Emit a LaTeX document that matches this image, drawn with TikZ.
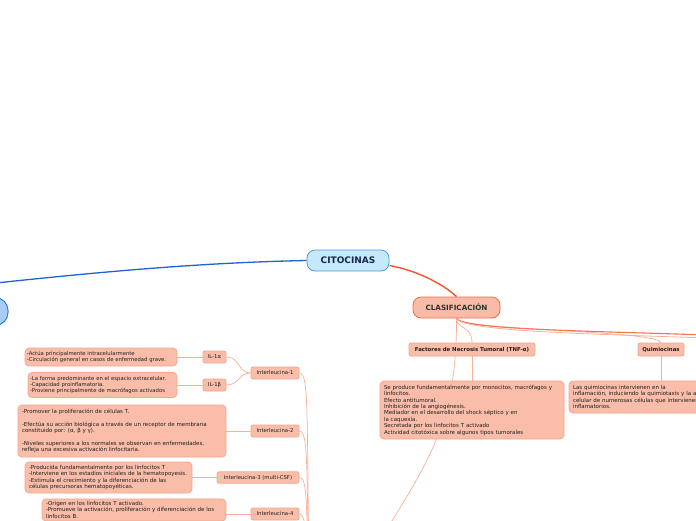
\documentclass[tikz,border=0pt]{standalone}
\usepackage{fontspec}
\setmainfont{DejaVu Sans}
\usetikzlibrary{backgrounds}
\definecolor{cfill}{HTML}{C5E9FB}
\definecolor{cdraw}{HTML}{4D9BD6}
\definecolor{ctext}{HTML}{17284A}
\definecolor{blueline}{HTML}{1E63CF}
\definecolor{bfill}{HTML}{A9CCF7}
\definecolor{bdraw}{HTML}{2F7BE0}
\definecolor{oline}{HTML}{F2552C}
\definecolor{ofill}{HTML}{F9BBA7}
\definecolor{odraw}{HTML}{EE6B45}
\definecolor{otext}{HTML}{1E3A2C}
\definecolor{sfill}{HTML}{F9BDA9}
\definecolor{sdraw}{HTML}{F6A88D}
\definecolor{sline}{HTML}{F8AF97}
\definecolor{rline}{HTML}{F47350}
\definecolor{txt}{HTML}{1F1F1F}
\tikzset{
 mainbox/.style={draw=cdraw, fill=cfill, rounded corners=8pt, line width=0.8pt, inner sep=0pt,
   font=\fontsize{9}{10}\selectfont\bfseries, text=ctext},
 bluebox/.style={draw=bdraw, fill=bfill, rounded corners=13pt, line width=1pt, inner sep=0pt},
 clbox/.style={draw=odraw, fill=ofill, rounded corners=8pt, line width=0.8pt, inner sep=0pt,
   font=\fontsize{7.2}{8}\selectfont\bfseries, text=otext},
 lbl/.style={draw=sdraw, fill=sfill, rounded corners=2pt, line width=0.8pt, inner sep=0pt,
   font=\fontsize{5.3}{6}\selectfont, text=txt},
 blbl/.style={lbl, font=\fontsize{5.4}{6}\selectfont\bfseries},
 tbox/.style={draw=sdraw, fill=sfill, rounded corners=4pt, line width=0.8pt, inner xsep=4pt,
   inner ysep=2.5pt, align=left, font=\fontsize{5.5}{6.4}\selectfont, text=txt},
 tboxs/.style={tbox, inner xsep=2pt, font=\fontsize{5.3}{6.4}\selectfont},
 thin/.style={draw=sline, line width=0.7pt},
}
\begin{document}
\begin{tikzpicture}[x=1pt,y=-1pt]
\useasboundingbox (0,0) rectangle (696,520);
\clip (0,0) rectangle (696,520);

% main nodes
\node[mainbox, minimum width=82pt, minimum height=21pt] (cito) at (348,260.5) {CITOCINAS};
\node[bluebox, minimum width=80pt, minimum height=28pt] (bluen) at (-32,311.5) {};
\node[clbox, minimum width=87pt, minimum height=21pt] (clas) at (456.5,307.5) {CLASIFICACIÓN};

% second level
\node[blbl, minimum width=126pt, minimum height=13pt] (fac) at (472,349.5) {Factores de Necrosis Tumoral (TNF-α)};
\node[blbl, minimum width=46pt, minimum height=13pt] (quim) at (661,349.5) {Quimiocinas};

\node[tbox, text width=176pt, minimum height=58pt] (tnf) at (472,410) {Se produce fundamentalmente por monocitos, macrófagos y\\
linfocitos.\\
Efecto antitumoral.\\
Inhibición de la angiogénesis.\\
Mediador en el desarrollo del shock séptico y en\\
la caquexia.\\
Secretada por los linfocitos T activado\\
Actividad citotóxica sobre algunos tipos tumorales};

\node[tbox, text width=176pt, minimum height=32pt] (quimt) at (661,397) {Las quimiocinas intervienen en la\\
inflamación, induciendo la quimiotaxis y la activación\\
celular de numerosas células que intervienen en\\
inflamatorios.};

% interleucinas
\node[lbl, minimum width=48pt, minimum height=12pt] (il1) at (275,373) {Interleucina-1};
\node[lbl, minimum width=23pt, minimum height=12pt] (il1a) at (214.5,357) {IL-1α};
\node[lbl, minimum width=23pt, minimum height=12pt] (il1b) at (214.5,385) {IL-1β};
\node[lbl, minimum width=48pt, minimum height=12pt] (il2) at (275,431) {Interleucina-2};
\node[lbl, minimum width=82pt, minimum height=11.5pt] (il3) at (258,477.5) {Interleucina-3 (multi-CSF)};
\node[lbl, minimum width=48pt, minimum height=12pt] (il4) at (275,514) {Interleucina-4};

\node[tboxs, text width=148pt, minimum height=18pt] (t1a) at (101,357) {-Actúa principalmente intracelularmente\\
-Circulación general en casos de enfermedad grave.};
\node[tboxs, text width=145pt, minimum height=25pt] (t1b) at (102.5,385) {-La forma predominante en el espacio extracelular.\\
-Capacidad proinflamatoria.\\
-Proviene principalmente de macrófagos activados};
\node[tbox, text width=200pt, minimum height=52pt] (t2) at (122,431) {-Promover la proliferación de células T.\\[6.4pt]
-Efectúa su acción biológica a través de un receptor de membrana\\
constituido por: (α, β y γ).\\[6.4pt]
-Niveles superiores a los normales se observan en enfermedades,\\
refleja una excesiva activación linfocitaria.};
\node[tbox, text width=159pt, minimum height=31pt] (t3) at (108.5,477.5) {-Producida fundamentalmente por los linfocitos T\\
-Interviene en los estadios iniciales de la hematopoyesis.\\
-Estimula el crecimiento y la diferenciación de las\\
células precursoras hematopoyéticas.};
\node[tbox, text width=176pt, anchor=north] (t4) at (134,498.5) {-Origen en los linfocitos T activado.\\
-Promueve la activación, proliferación y diferenciación de los\\
linfocitos B.};

% off-picture ends
\coordinate (leftend) at (-60,289);
\coordinate (ilhub) at (310,620);
\coordinate (sub) at (380,540);
\coordinate (rA) at (720,335.5);
\coordinate (rB) at (720,338.5);

\begin{scope}[on background layer]
\draw[blueline, line width=1.3pt] (cito.west) .. controls (180,263) and (60,276) .. (leftend);
\draw[oline, line width=1.4pt] ([yshift=-5pt]cito.east) .. controls (415,270) and (442,283) .. (clas.north);
\draw[thin] (clas.south) .. controls (457,330) and (472,325) .. (fac.north);
\draw[thin] (fac.south) -- (tnf.north);
\draw[thin] (clas.south) .. controls (457,420) and (430,460) .. (sub);
\draw[thin] (clas.south) .. controls (465,331) and (655,330) .. (quim.north);
\draw[rline, line width=1.1pt] (clas.south) .. controls (462,330) and (600,331) .. (rA);
\draw[sline, line width=0.8pt] (clas.south) .. controls (464,332) and (600,334) .. (rB);
\draw[thin] (quim.south) -- (quimt.north);
\draw[thin] (t1a.east) -- (il1a.west);
\draw[thin] (t1b.east) -- (il1b.west);
\draw[thin] (il1a.east) .. controls (240,357) and (238,373) .. (il1.west);
\draw[thin] (il1b.east) .. controls (240,385) and (238,373) .. (il1.west);
\draw[thin] (t2.east) -- (il2.west);
\draw[thin] (t3.east) -- (il3.west);
\draw[thin] (il4.west -| t4.east) -- (il4.west);
\draw[thin] (il1.east) .. controls (310,373) and (306,420) .. (ilhub);
\draw[thin] (il2.east) .. controls (309,431) and (306,470) .. (ilhub);
\draw[thin] (il3.east) .. controls (308,477.5) and (306,505) .. (ilhub);
\draw[thin] (il4.east) .. controls (306,514) and (306,530) .. (ilhub);
\end{scope}
\end{tikzpicture}
\end{document}
